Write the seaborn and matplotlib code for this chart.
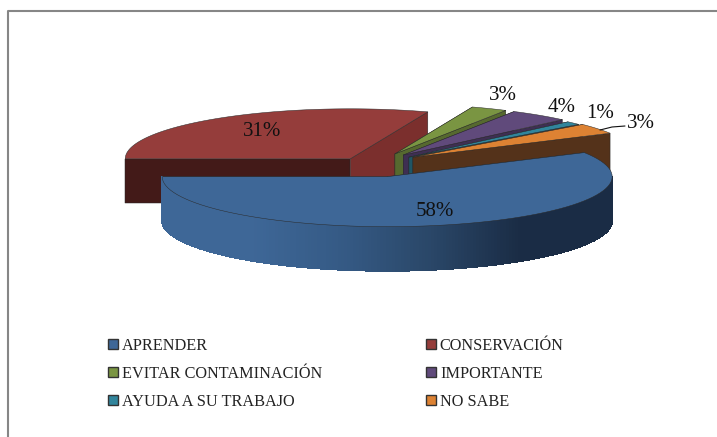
import numpy as np
import matplotlib
matplotlib.use('Agg')
import matplotlib.pyplot as plt
from matplotlib.patches import Patch, Polygon
import seaborn as sns

categories = ['APRENDER', 'CONSERVACIÓN', 'EVITAR CONTAMINACIÓN',
              'IMPORTANTE', 'AYUDA A SU TRABAJO', 'NO SABE']
values = [58.0, 30.6, 2.6, 4.3, 1.1, 3.4]

# colours: top face, cut face
top_colors = ['#3E6797', '#953D3B', '#7A9542', '#604A7B', '#31859C', '#DD8233']
cut_colors = ['#24405F', '#7B2F2D', '#56692F', '#3E2F52', '#1F5665', '#54321A']
front_color = '#431A18'

# projected pie layout, pixels
center = (376, 167)
rx, ry = 225, 50
depth = 44
explode = 0.2
lift = [0, 0, 4, 4, 3, 4]
start_angle = 180

label_xy = [(435, 212), (262, 132), (503, 95), (562, 107), (600, 113), (641, 124)]


def ellipse_pts(cx, cy, a0, a1, n=80):
    t = np.radians(np.linspace(a0, a1, n))
    return np.column_stack([cx + rx * np.cos(t), cy - ry * np.sin(t)])


def draw_slice(ax, i, a0, a1):
    mid = np.radians((a0 + a1) / 2)
    cx = center[0] + explode * rx * np.cos(mid)
    cy = center[1] - explode * ry * np.sin(mid) - lift[i]
    arc = ellipse_pts(cx, cy, a0, a1)
    edge = dict(edgecolor='#2A2A2A', linewidth=0.35)

    # cut faces, the far one first
    for p in [arc[-1], arc[0]]:
        face = [(cx, cy), p, (p[0], p[1] + depth), (cx, cy + depth)]
        flat = abs(p[1] - cy) < 3 and p[0] < cx
        color = front_color if flat else cut_colors[i]
        ax.add_patch(Polygon(face, facecolor=color, **edge))

    # outer wall, only where it faces the viewer, shaded left to right
    low, high = max(a0, 180), min(a1, 360)
    if high > low:
        n = 150
        shades = sns.blend_palette(['#3E6797', '#3E6797', '#355A85', '#2A4768', '#1A2C45', '#1A2C45'], n)
        xs = np.linspace(-1, 1, n + 1)
        angles = 360 - np.degrees(np.arccos(xs))
        for k in range(n):
            strip = ellipse_pts(cx, cy, angles[k], angles[k + 1], 6)
            wall = np.vstack([strip, strip[::-1] + [0, depth]])
            ax.add_patch(Polygon(wall, facecolor=shades[k], edgecolor=shades[k],
                                 linewidth=0.8, antialiased=False))

    top = np.vstack([[(cx, cy)], arc])
    ax.add_patch(Polygon(top, facecolor=top_colors[i], **edge))


sns.set_theme(style='white')
plt.rcParams['font.family'] = ['Liberation Serif', 'DejaVu Serif']

fig = plt.figure(figsize=(7.17, 4.37), dpi=100)
ax = fig.add_axes([0, 0, 1, 1])
ax.set_xlim(0, 717)
ax.set_ylim(437, 0)
ax.axis('off')

# chart frame
ax.plot([7.5, 7.5, 717], [437, 10.5, 10.5], color='#868686', linewidth=1.5)

# angles run clockwise from the start angle, first slice wraps through the front
spans = np.array(values) / sum(values) * 360
angles = {}
end = start_angle
for i in range(1, len(values)):
    angles[i] = (end - spans[i], end)
    end -= spans[i]
angles[0] = (start_angle, end + 360)

for i in [1, 2, 3, 4, 5, 0]:
    draw_slice(ax, i, *angles[i])

for i, (x, y) in enumerate(label_xy):
    ax.text(x, y, f'{round(values[i])}%', ha='center', va='center', fontsize=15, color='#111111')

# leader line of the last label
ax.plot([600, 612, 625], [130, 127, 126], color='#111111', linewidth=0.8)

handles = [Patch(facecolor=c, edgecolor='#333333', linewidth=1, label=n)
           for c, n in zip(top_colors, categories)]
ax.legend(handles=handles[0::2] + handles[1::2], ncol=2, frameon=False,
          loc='upper left', bbox_to_anchor=(108 / 717, 1 - 338 / 437),
          fontsize=11.7, handlelength=0.6, handleheight=0.6, handletextpad=0.25,
          labelspacing=0.73, columnspacing=6.4, borderpad=0, borderaxespad=0,
          labelcolor='#222222')

fig.savefig('out.png', dpi=100)
